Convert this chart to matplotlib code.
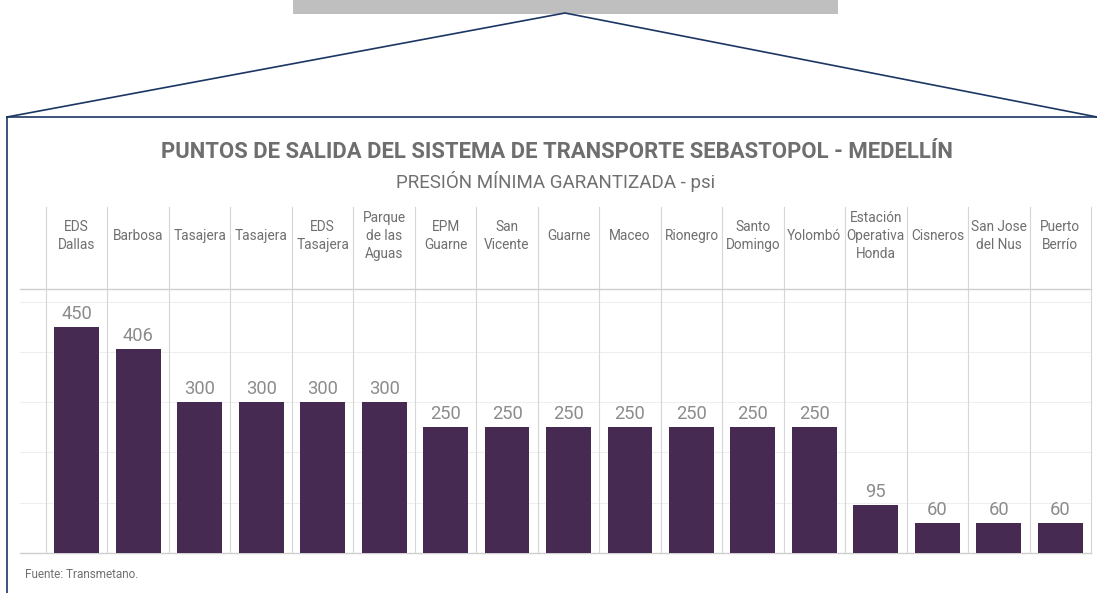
import matplotlib
matplotlib.use("Agg")
import matplotlib.pyplot as plt
from matplotlib import font_manager
from matplotlib.lines import Line2D
from matplotlib.patches import Rectangle

categories = [
    "EDS\nDallas", "Barbosa", "Tasajera", "Tasajera", "EDS\nTasajera",
    "Parque\nde las\nAguas", "EPM\nGuarne", "San\nVicente", "Guarne", "Maceo",
    "Rionegro", "Santo\nDomingo", "Yolombó", "Estación\nOperativa\nHonda",
    "Cisneros", "San Jose\ndel Nus", "Puerto\nBerrío",
]
pressure_psi = [450, 406, 300, 300, 300, 300, 250, 250, 250, 250, 250, 250, 250, 95, 60, 60, 60]
grid_levels = [100, 200, 300, 400, 500]

title = "PUNTOS DE SALIDA DEL SISTEMA DE TRANSPORTE SEBASTOPOL - MEDELLÍN"
subtitle = "PRESIÓN MÍNIMA GARANTIZADA - psi"
source = "Fuente: Transmetano."

W, H = 1097, 593
BAR = "#462a52"
NAVY = "#1c3664"

plt.rcParams["font.family"] = ["Roboto", "DejaVu Sans"]

# a narrow face suits the crowded column headers, if one is installed
installed = {f.name for f in font_manager.fontManager.ttflist}
narrow = "Liberation Sans Narrow" if "Liberation Sans Narrow" in installed else "Roboto"


def px_x(x):
    return x / W


def px_y(y):
    return 1 - y / H


def fit_width(txt, target_px, renderer):
    """Scale a text's font size so it spans target_px pixels."""
    w = txt.get_window_extent(renderer).width
    txt.set_fontsize(txt.get_fontsize() * target_px / w)


fig = plt.figure(figsize=(W / 100, H / 100), dpi=100)
renderer = fig.canvas.get_renderer()

# slide decoration: grey banner, callout lines and frame
fig.add_artist(Rectangle((px_x(293), px_y(14)), px_x(838 - 293), 14 / H,
                         transform=fig.transFigure, color="#bfbfbf", lw=0))
for xs, ys in [([7, 565, 1097], [117, 13, 117]), ([7, 1097], [117, 117]), ([7, 7], [117, 593])]:
    fig.add_artist(Line2D([px_x(v) for v in xs], [px_y(v) for v in ys],
                          transform=fig.transFigure, color=NAVY, lw=1.2))

ax = fig.add_axes([px_x(46), px_y(553), px_x(1091 - 46), 264 / H])
n = len(categories)
xs = list(range(n))
ax.set_xlim(-0.5, n - 0.5)
ax.set_ylim(0, 525)
ax.axis("off")

# faint horizontal guides
for lv in grid_levels:
    ax.plot([-0.025, 1], [lv, lv], transform=ax.get_yaxis_transform(),
            color="#efefef", lw=0.8, clip_on=False, zorder=0)

# column separators running up into header
tr = ax.get_xaxis_transform()
for i in range(n + 1):
    ax.plot([i - 0.5, i - 0.5], [0, 1.311], transform=tr, color="#d6d6d6",
            lw=0.8, clip_on=False, zorder=0)

# header divider and baseline
for yy in (0, 1):
    ax.plot([-0.025, 1], [yy, yy], transform=ax.transAxes, color="#cfcfcf",
            lw=1.0, clip_on=False, zorder=1)

ax.bar(xs, pressure_psi, width=0.73, color=BAR, zorder=2)

value_txts = []
for x, v in zip(xs, pressure_psi):
    t = ax.annotate(str(v), (x, v), xytext=(0, 5.8), textcoords="offset points",
                    ha="center", va="baseline", color="#8c8c8c", fontsize=13)
    value_txts.append(t)
fit_width(value_txts[0], 31, renderer)
for t in value_txts[1:]:
    t.set_fontsize(value_txts[0].get_fontsize())

head_txts = []
for x, lab in zip(xs, categories):
    t = ax.text(x, 1.2, lab, transform=tr, ha="center", va="center",
                color="#6f6f6f", fontsize=10, linespacing=1.35,
                multialignment="center", family=[narrow, "DejaVu Sans"])
    head_txts.append(t)
fit_width(head_txts[13], 58, renderer)
for t in head_txts:
    t.set_fontsize(min(head_txts[13].get_fontsize(), 11))

t_title = fig.text(px_x(556.5), px_y(158), title, ha="center", va="baseline",
                   color="#6e6e6e", fontsize=15, fontweight="bold")
fit_width(t_title, 797, renderer)
t_sub = fig.text(px_x(556), px_y(188), subtitle, ha="center", va="baseline",
                 color="#707070", fontsize=12)
fit_width(t_sub, 318, renderer)
t_src = fig.text(px_x(25), px_y(578), source, ha="left", va="baseline",
                 color="#707070", fontsize=8)
fit_width(t_src, 115, renderer)

fig.savefig("out.png", dpi=100)
